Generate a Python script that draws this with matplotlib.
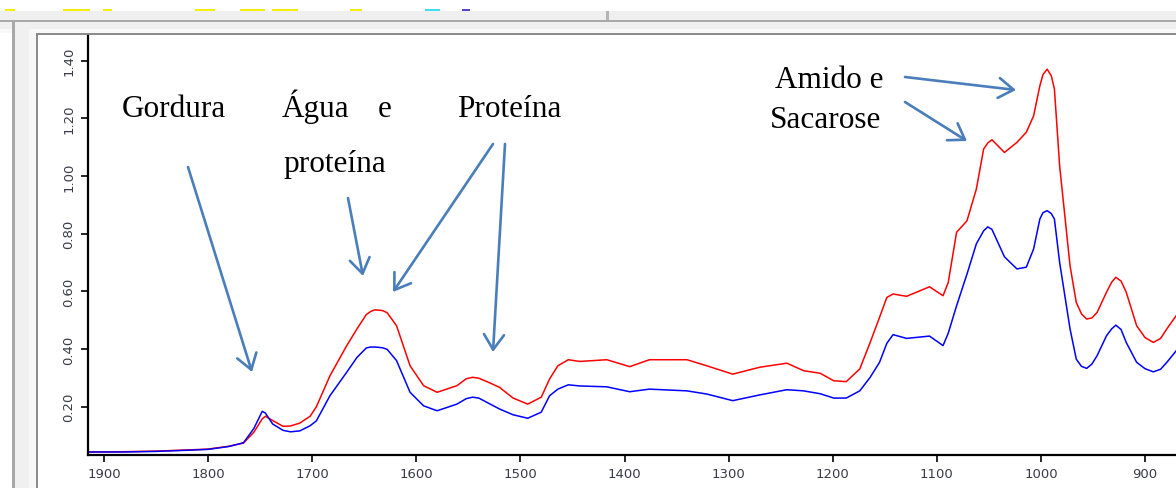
#!/usr/bin/env python3
"""FTIR spectra of two samples with band assignments (screenshot style)."""
import matplotlib.pyplot as plt
from matplotlib.patches import Rectangle, FancyArrowPatch

W, H = 1176, 489

wavenumber = [1915, 1880, 1850, 1820, 1800, 1780, 1766, 1756, 1748, 1745,
              1738, 1728, 1721, 1712, 1702, 1696, 1683, 1667, 1657, 1648,
              1644, 1640, 1636, 1632, 1628, 1619, 1606, 1593, 1580, 1561,
              1552, 1546, 1540, 1529, 1520,
              1507, 1493, 1480, 1472, 1464, 1454, 1443, 1417, 1395, 1376,
              1340, 1321, 1296, 1270, 1244, 1228, 1212, 1199, 1187, 1174,
              1164, 1155, 1148, 1142, 1129, 1107, 1094, 1089, 1081, 1071,
              1062, 1055, 1051, 1047, 1035, 1023, 1014, 1007, 1001, 998,
              994, 990, 987, 982, 972, 966, 961, 956, 951, 946,
              937, 932, 928, 923, 918, 908, 900, 892, 885, 879,
              870]
red_spectrum = [0.043, 0.044, 0.046, 0.050, 0.053, 0.063, 0.074, 0.112, 0.158, 0.167,
                0.152, 0.132, 0.133, 0.143, 0.167, 0.200, 0.307, 0.411, 0.470, 0.520,
                0.530, 0.536, 0.535, 0.533, 0.526, 0.481, 0.342, 0.273, 0.250, 0.273,
                0.297, 0.302, 0.299, 0.282, 0.267,
                0.230, 0.209, 0.233, 0.296, 0.342, 0.363, 0.357, 0.363, 0.339, 0.363,
                0.363, 0.342, 0.313, 0.337, 0.351, 0.325, 0.316, 0.290, 0.287, 0.331,
                0.423, 0.510, 0.579, 0.591, 0.583, 0.616, 0.585, 0.631, 0.805, 0.845,
                0.955, 1.094, 1.115, 1.126, 1.082, 1.117, 1.152, 1.209, 1.313, 1.352,
                1.371, 1.348, 1.302, 1.036, 0.689, 0.562, 0.522, 0.504, 0.508, 0.527,
                0.597, 0.632, 0.649, 0.636, 0.597, 0.481, 0.440, 0.423, 0.437, 0.470,
                0.516]
blue_spectrum = [0.043, 0.043, 0.045, 0.049, 0.052, 0.062, 0.075, 0.125, 0.184, 0.178,
                 0.140, 0.118, 0.113, 0.116, 0.134, 0.151, 0.238, 0.319, 0.371, 0.404,
                 0.407, 0.407, 0.406, 0.404, 0.399, 0.360, 0.250, 0.203, 0.186, 0.209,
                 0.228, 0.233, 0.230, 0.209, 0.192,
                 0.172, 0.160, 0.181, 0.238, 0.261, 0.276, 0.272, 0.269, 0.252, 0.261,
                 0.255, 0.244, 0.221, 0.241, 0.259, 0.255, 0.245, 0.230, 0.230, 0.255,
                 0.302, 0.354, 0.420, 0.450, 0.437, 0.445, 0.412, 0.455, 0.550, 0.660,
                 0.765, 0.810, 0.824, 0.815, 0.720, 0.678, 0.684, 0.747, 0.851, 0.873,
                 0.880, 0.870, 0.851, 0.701, 0.470, 0.365, 0.340, 0.333, 0.348, 0.377,
                 0.446, 0.470, 0.483, 0.468, 0.423, 0.354, 0.332, 0.321, 0.330, 0.354,
                 0.394]

x_ticks = [1900, 1800, 1700, 1600, 1500, 1400, 1300, 1200, 1100, 1000, 900]
y_ticks = [0.20, 0.40, 0.60, 0.80, 1.00, 1.20, 1.40]

# label text, left edge and baseline in screenshot pixels
labels = [('Gordura', 122, 117), ('Água', 282, 117), ('e', 378, 117),
          ('proteína', 283, 172), ('Proteína', 457, 117),
          ('Amido e', 775, 88), ('Sacarose', 770, 128)]
# arrows: tail -> head in screenshot pixels
arrows = [((188, 168), (252, 373)), ((348, 199), (363, 277)),
          ((493, 145), (393, 293)), ((505, 145), (493, 353)),
          ((905, 78), (1016, 91)), ((905, 103), (967, 142))]

ARROW_BLUE = '#4a7ebb'


def fx(px):
    return px / W


def fy(py):
    return 1 - py / H


def chrome(fig, x0, y0, x1, y1, color):
    fig.add_artist(Rectangle((fx(x0), fy(y1)), (x1 - x0) / W, (y1 - y0) / H,
                             transform=fig.transFigure, facecolor=color,
                             edgecolor='none', zorder=-5))


def main():
    fig = plt.figure(figsize=(W / 100, H / 100), dpi=100)
    fig.patch.set_facecolor('white')

    # window chrome around the plot panel
    chrome(fig, 0, 12, W, 21, '#efefef')
    chrome(fig, 0, 21, W, 22.5, '#a9a9a9')
    chrome(fig, 606, 12, 608.5, 21, '#b4b4b4')
    chrome(fig, 0, 22.5, W, 30, '#f0f0f0')
    chrome(fig, 0, 30, W, 34, '#f8f8f8')
    chrome(fig, 12, 22.5, 15, H, '#a8a8a8')
    chrome(fig, 15, 30, 29, H, '#f0f0f0')
    chrome(fig, 29, 34, 36, H, '#f7f7f7')
    chrome(fig, 36, 34, W, 36, '#8c8c8c')
    chrome(fig, 36, 34, 38, H, '#8c8c8c')
    for x0, x1 in [(5, 15), (63, 90), (103, 112), (195, 215), (240, 265), (272, 298), (350, 362)]:
        chrome(fig, x0, 10, x1, 12, '#f5f000')
    chrome(fig, 425, 10, 440, 12, '#40e0f0')
    chrome(fig, 462, 10, 470, 12, '#6040d0')

    ax = fig.add_axes([fx(88), 33 / H, (W - 88) / W, (456 - 37) / H])
    ax.set_facecolor('white')
    ax.plot(wavenumber, red_spectrum, color='#ff0000', linewidth=1.1)
    ax.plot(wavenumber, blue_spectrum, color='#0000ff', linewidth=1.1)

    ax.set_xlim(1915.4, 870.2)
    ax.set_ylim(0.0325, 1.486)
    ax.set_xticks(x_ticks)
    ax.set_yticks(y_ticks)
    ax.set_yticklabels([f'{v:.2f}' for v in y_ticks], rotation=90, va='center')
    ax.tick_params(axis='both', direction='out', length=5, width=1.2,
                   labelsize=9.5, labelcolor='#3a3a48', pad=4)
    for label in ax.get_xticklabels() + ax.get_yticklabels():
        label.set_family('DejaVu Sans')
    ax.spines['top'].set_visible(False)
    ax.spines['right'].set_visible(False)
    for side in ('left', 'bottom'):
        ax.spines[side].set_linewidth(1.6)
        ax.spines[side].set_color('black')

    for text, px, py in labels:
        fig.text(fx(px), fy(py), text, family='Liberation Serif', fontsize=22.5,
                 ha='left', va='baseline', color='black')

    for (x0, y0), (x1, y1) in arrows:
        fig.add_artist(FancyArrowPatch((fx(x0), fy(y0)), (fx(x1), fy(y1)),
                                       transform=fig.transFigure,
                                       arrowstyle='->,head_length=0.9,head_width=0.6',
                                       mutation_scale=12, linewidth=1.9,
                                       color=ARROW_BLUE, shrinkA=0, shrinkB=0,
                                       zorder=4))

    fig.savefig('out.png', dpi=100)
    plt.close(fig)


if __name__ == '__main__':
    main()
